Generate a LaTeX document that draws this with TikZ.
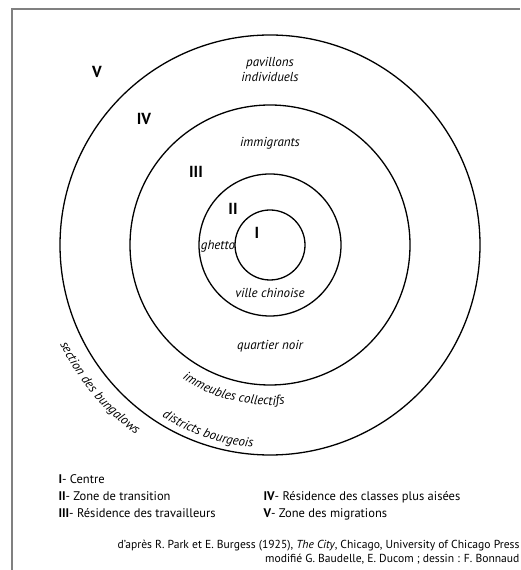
\documentclass[tikz,border=0pt]{standalone}
\usepackage{fontspec}
\setmainfont{PT Sans}
\usetikzlibrary{decorations.text}
\tikzset{
  zone/.style = {draw, circle, line width=1.3pt, inner sep=0pt},
  numeral/.style = {font=\fontsize{16}{16}\selectfont\bfseries},
  place/.style = {font=\fontsize{13}{15}\selectfont\itshape, align=center},
  legend/.style = {anchor=base west, font=\fontsize{12.5}{14}\selectfont},
  credit/.style = {anchor=base east, font=\fontsize{11.6}{12}\selectfont}
}
\begin{document}
\begin{tikzpicture}[x = 1pt, y = 1pt]
  \useasboundingbox (0,0) rectangle (520,570);
  \draw[gray, line width=1.5pt] (12,0)--(12,561)--(520,561);
  % the five zones
  \coordinate (ctr) at (270,325);
  \node[zone, minimum size=70pt] (zoneI) at (ctr) {};
  \node[zone, minimum size=142pt] (zoneII) at (ctr) {};
  \node[zone, minimum size=280pt] (zoneIII) at (ctr) {};
  \node[zone, minimum size=420pt] (zoneIV) at (ctr) {};
  \node[numeral] (numV) at (97,498) {V};
  \node[numeral] (numIV) at (144,451) {IV};
  \node[numeral] (numIII) at (196,398) {III};
  \node[numeral] (numII) at (233,361) {II};
  \node[numeral] (numI) at (257,337) {I};
  % place names
  \node[place] (pavillons) at (270,501) {pavillons\\individuels};
  \node[place] (immigrants) at (270,427) {immigrants};
  \node[place] (ghetto) at (218,324) {ghetto};
  \node[place] (chinoise) at (270,277) {ville chinoise};
  \node[place] (noir) at (270,224) {quartier noir};
  \path[decorate, decoration={text along path, text align=center,
      text={|\fontsize{13}{15}\selectfont\itshape|immeubles collectifs}}]
    (ctr) ++(215:160pt) arc[start angle=215, end angle=297, radius=160pt];
  \path[decorate, decoration={text along path, text align=center,
      text={|\fontsize{13}{15}\selectfont\itshape|districts bourgeois}}]
    (ctr) ++(215:203pt) arc[start angle=215, end angle=288, radius=203pt];
  \path[decorate, decoration={text along path, text align=center,
      text={|\fontsize{13}{15}\selectfont\itshape|section des bungalows}}]
    (ctr) ++(182:232pt) arc[start angle=182, end angle=258, radius=232pt];
  % legend
  \node[legend] (legI) at (55,86) {\textbf{I}- Centre};
  \node[legend] (legII) at (55,69) {\textbf{II}- Zone de transition};
  \node[legend] (legIII) at (55,52) {\textbf{III}- Résidence des travailleurs};
  \node[legend] (legIV) at (260,69) {\textbf{IV}- Résidence des classes plus aisées};
  \node[legend] (legV) at (260,52) {\textbf{V}- Zone des migrations};
  \node[credit] (source) at (523,21) {d'après R. Park et E. Burgess (1925), \textit{The City}, Chicago, University of Chicago Press};
  \node[credit] (drawing) at (523,7) {modifié G. Baudelle, E. Ducom ; dessin : F. Bonnaud};
\end{tikzpicture}
\end{document}
